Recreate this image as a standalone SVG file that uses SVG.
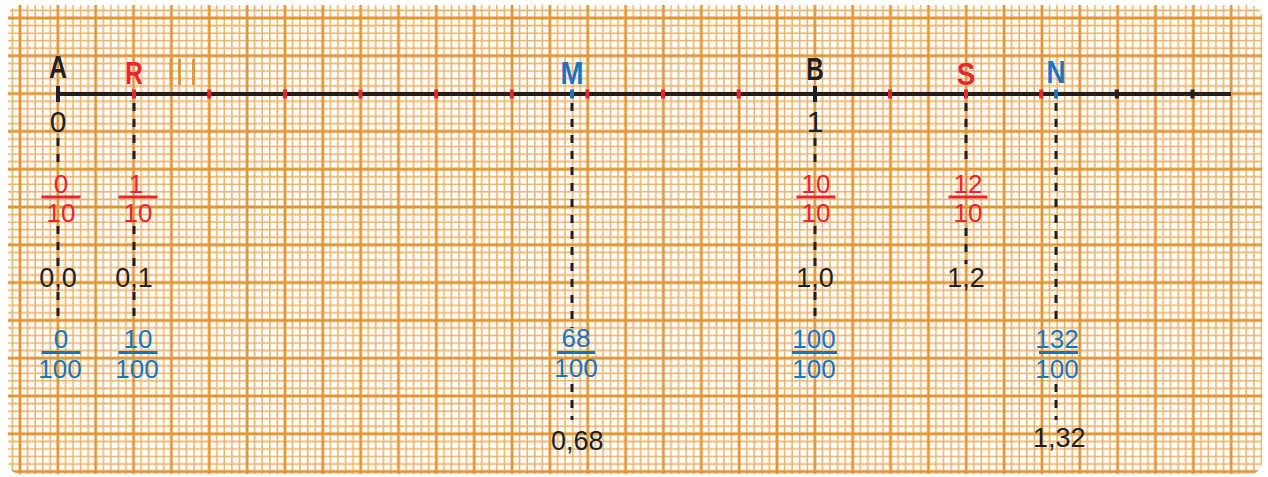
<svg xmlns="http://www.w3.org/2000/svg" width="1268" height="477" viewBox="0 0 1268 477">
<style>
.minor{stroke:#ECB46C;stroke-width:1.6;fill:none}
.major{stroke:#E29633;stroke-width:2.8;fill:none}
.dash{stroke:#231F20;stroke-width:3;stroke-dasharray:8 8;fill:none}
.lbl{font-family:"Liberation Sans",Arial,sans-serif;font-weight:bold;font-size:32px;text-anchor:middle}
.num{font-family:"Liberation Sans",Arial,sans-serif;font-size:26px;text-anchor:middle}
.big{font-family:"Liberation Sans",Arial,sans-serif;font-size:30px;text-anchor:middle;fill:#231F20}
.dec{font-family:"Liberation Sans",Arial,sans-serif;font-size:27px;fill:#231F20}
.red{fill:#E8262D}
.blue{fill:#1C74BC}
.blk{fill:#231F20}
</style>
<defs>
<pattern id="grid" patternUnits="userSpaceOnUse" x="20" y="18" width="37.85" height="37.8">
<path class="minor" d="M7.57 0V37.8M15.14 0V37.8M22.71 0V37.8M30.28 0V37.8M0 7.56H37.85M0 15.12H37.85M0 22.68H37.85M0 30.24H37.85"/>
<path class="major" d="M0 0V37.8M37.85 0V37.8M0 0H37.85M0 37.8H37.85"/>
</pattern>
</defs>
<rect width="1268" height="477" fill="#FFFFFF"/>
<rect x="8" y="5" width="1254" height="469" rx="12" fill="url(#grid)"/>
<path class="major" d="M171 59V85M179.5 59V85M193.5 59V85"/>

<g id="connectors">
<path class="dash" d="M58 138V168M58 226V266M58 292V322"/>
<path class="dash" d="M134 103V166M134 226V266M134 292V322"/>
<path class="dash" d="M572 103V328M572 384V420"/>
<path class="dash" d="M815 138V168M815 226V266M815 292V322"/>
<path class="dash" d="M966 103V166M966 228V264"/>
<path class="dash" d="M1056 103V322M1056 384V420"/>
</g>

<g id="axis">
<line x1="58" y1="94" x2="1231" y2="94" stroke="#231F20" stroke-width="4"/>
<g class="red">
<rect x="207.3" y="89.5" width="4" height="9"/>
<rect x="282.9" y="89.5" width="4" height="9"/>
<rect x="358.5" y="89.5" width="4" height="9"/>
<rect x="434.2" y="89.5" width="4" height="9"/>
<rect x="509.8" y="89.5" width="4" height="9"/>
<rect x="585.4" y="89.5" width="4" height="9"/>
<rect x="661" y="89.5" width="4" height="9"/>
<rect x="736.7" y="89.5" width="4" height="9"/>
<rect x="888" y="89.5" width="4" height="9"/>
<rect x="1039.2" y="89.5" width="4" height="9"/>
</g>
<g class="blk">
<rect x="1114.8" y="89.5" width="4" height="9"/>
<rect x="1190.5" y="89.5" width="4" height="9"/>
</g>
</g>

<g id="A">
<rect class="blk" x="56" y="86" width="4" height="16"/>
<text class="lbl blk" x="58" y="78" textLength="18" lengthAdjust="spacingAndGlyphs">A</text>
<text class="big" x="58" y="132">0</text>
<text class="num red" x="61" y="193">0</text>
<rect class="red" x="41.5" y="195.5" width="39" height="3"/>
<text class="num red" x="61" y="222">10</text>
<text class="dec" x="58" y="287" text-anchor="middle">0,0</text>
<text class="num blue" x="61" y="348">0</text>
<rect class="blue" x="41.5" y="351" width="39" height="3"/>
<text class="num blue" x="60" y="378">100</text>
</g>

<g id="R">
<rect class="red" x="132" y="89.5" width="4" height="9"/>
<text class="lbl red" x="134" y="84" textLength="17.5" lengthAdjust="spacingAndGlyphs">R</text>
<text class="num red" x="136" y="193">1</text>
<rect class="red" x="118.5" y="195.5" width="39" height="3"/>
<text class="num red" x="138" y="222">10</text>
<text class="dec" x="134" y="287" text-anchor="middle">0,1</text>
<text class="num blue" x="138" y="348">10</text>
<rect class="blue" x="118.5" y="351" width="39" height="3"/>
<text class="num blue" x="137" y="378">100</text>
</g>

<g id="M">
<rect class="blue" x="570" y="89.5" width="4" height="9"/>
<text class="lbl blue" x="572" y="84" textLength="23" lengthAdjust="spacingAndGlyphs">M</text>
<text class="num blue" x="576" y="347">68</text>
<rect class="blue" x="557" y="351" width="38" height="3"/>
<text class="num blue" x="576" y="377">100</text>
<text class="dec" x="551" y="450">0,68</text>
</g>

<g id="B">
<rect class="blk" x="813" y="86" width="4" height="16"/>
<text class="lbl blk" x="815" y="80" textLength="17.5" lengthAdjust="spacingAndGlyphs">B</text>
<text class="big" x="815" y="132">1</text>
<text class="num red" x="816" y="193">10</text>
<rect class="red" x="796.5" y="195.5" width="39" height="3"/>
<text class="num red" x="816" y="222">10</text>
<text class="dec" x="815" y="287" text-anchor="middle">1,0</text>
<text class="num blue" x="814" y="348">100</text>
<rect class="blue" x="792" y="351" width="45" height="3"/>
<text class="num blue" x="814" y="378">100</text>
</g>

<g id="S">
<rect class="red" x="964" y="89.5" width="4" height="9"/>
<text class="lbl red" x="966" y="85" textLength="18.5" lengthAdjust="spacingAndGlyphs">S</text>
<text class="num red" x="968" y="193">12</text>
<rect class="red" x="948.5" y="195.5" width="39" height="3"/>
<text class="num red" x="968" y="222">10</text>
<text class="dec" x="966" y="287" text-anchor="middle">1,2</text>
</g>

<g id="N">
<rect class="blue" x="1054" y="89.5" width="4" height="9"/>
<text class="lbl blue" x="1056" y="83" textLength="19" lengthAdjust="spacingAndGlyphs">N</text>
<text class="num blue" x="1057" y="348">132</text>
<rect class="blue" x="1039" y="351" width="39" height="3"/>
<text class="num blue" x="1057" y="378">100</text>
<text class="dec" x="1033" y="447">1,32</text>
</g>
</svg>
